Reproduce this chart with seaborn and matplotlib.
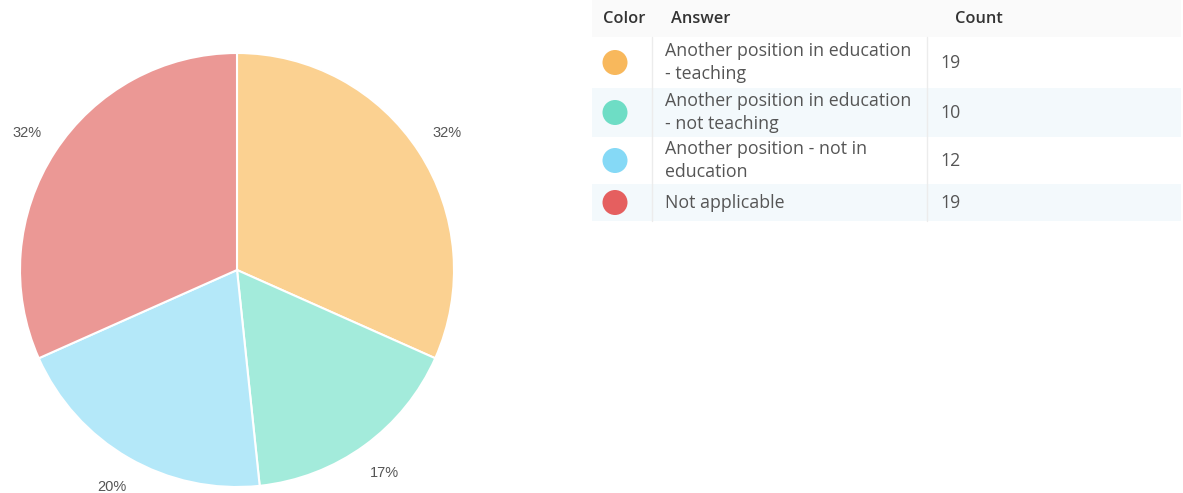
import matplotlib
matplotlib.use("Agg")
import matplotlib.pyplot as plt
from matplotlib.patches import Rectangle, Circle
import seaborn as sns

sns.set_style("white")

# Survey answers and counts
answers = [
    "Another position in education\n- teaching",
    "Another position in education\n- not teaching",
    "Another position - not in\neducation",
    "Not applicable",
]
counts = [19, 10, 12, 19]

# Solid colours for the legend dots, pale tints for the pie slices
dot_colors = sns.color_palette(["#F8B85C", "#6EDDC5", "#85D9F6", "#E55F5F"])
slice_colors = sns.color_palette(["#FBD191", "#A3EBDB", "#B4E8F9", "#EB9895"])

W, H = 1183, 493
fig = plt.figure(figsize=(W / 100, H / 100), dpi=100)
fig.patch.set_facecolor("white")

# Pie: centre (237, 270) px from top-left, radius 217 px
R = 217
half = 1.25 * R
cx, cy = 237, H - 270
ax = fig.add_axes([(cx - half) / W, (cy - half) / H, 2 * half / W, 2 * half / H])
wedges, texts, autotexts = ax.pie(
    counts,
    colors=slice_colors,
    startangle=90,
    counterclock=False,
    radius=1.0,
    autopct=lambda p: f"{p:.0f}%",
    pctdistance=1.155,
    labeldistance=None,
    wedgeprops=dict(edgecolor="white", linewidth=1.5),
    textprops=dict(color="#555555", fontsize=10.5, family="Liberation Sans"),
)
ax.set_xlim(-1.25, 1.25)
ax.set_ylim(-1.25, 1.25)
ax.set_aspect("equal")
ax.axis("off")

# Table drawn in pixel coordinates (origin top-left)
tab = fig.add_axes([0, 0, 1, 1])
tab.set_xlim(0, W)
tab.set_ylim(H, 0)
tab.axis("off")

x0, x1 = 592, 1181
col_answer, col_count = 652, 927
header_top, header_bot = 0, 37
row_edges = [37, 88, 137, 184, 221]
row_bg = ["#FFFFFF", "#F3F9FC", "#FFFFFF", "#F3F9FC"]

tab.add_patch(Rectangle((x0, header_top), x1 - x0, header_bot - header_top,
                        facecolor="#FAFAFA", edgecolor="none"))
for i in range(4):
    tab.add_patch(Rectangle((x0, row_edges[i]), x1 - x0, row_edges[i + 1] - row_edges[i],
                            facecolor=row_bg[i], edgecolor="none"))
for xv in (col_answer, col_count):
    tab.plot([xv, xv], [row_edges[0], row_edges[-1]], color="#ECECEC", lw=1)

font = "Open Sans"
hdr_y = 19
for label, xh in (("Color", 603), ("Answer", 671), ("Count", 955)):
    tab.text(xh, hdr_y, label, fontsize=11.8, color="#333333", family=font,
             fontweight="semibold", va="center")

for i, (ans, cnt, col) in enumerate(zip(answers, counts, dot_colors)):
    yc = (row_edges[i] + row_edges[i + 1]) / 2
    tab.add_patch(Circle((615, yc), 12.5, facecolor=col, edgecolor="none"))
    tab.text(665, yc, ans, fontsize=12.8, color="#555555", family=font,
             va="center", linespacing=1.3)
    tab.text(940, yc, str(cnt), fontsize=12.8, color="#555555", family=font,
             va="center")

fig.savefig("out.png", dpi=100, facecolor="white")
